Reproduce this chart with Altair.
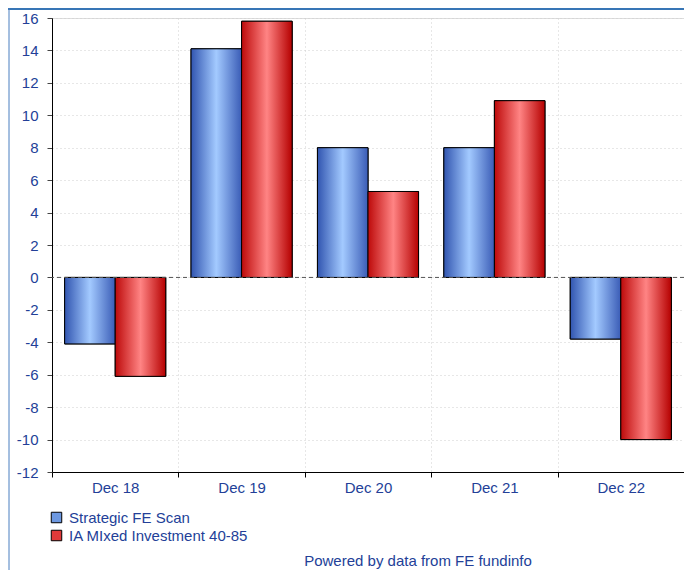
import altair as alt
import pandas as pd

# ---- data ----
categories = ["Dec 18", "Dec 19", "Dec 20", "Dec 21", "Dec 22"]
series_names = ["Strategic FE Scan", "IA MIxed Investment 40-85"]
strategic = [-4.1, 14.1, 8.0, 8.0, -3.8]
ia_mixed = [-6.1, 15.8, 5.3, 10.9, -10.0]
y_ticks = list(range(-12, 17, 2))
footer_text = "Powered by data from FE fundinfo"

rows = []
for c, a, b in zip(categories, strategic, ia_mixed):
    rows.append({"period": c, "series": series_names[0], "value": a})
    rows.append({"period": c, "series": series_names[1], "value": b})
df = pd.DataFrame(rows)

NAVY = "#233f98"
FONT = "Liberation Sans"
W = 632

blue_grad = {
    "gradient": "linear", "x1": 0, "x2": 1, "y1": 0, "y2": 0,
    "stops": [
        {"offset": 0, "color": "#3155b0"},
        {"offset": 0.5, "color": "#a3caff"},
        {"offset": 1, "color": "#3a5cb6"},
    ],
}
red_grad = {
    "gradient": "linear", "x1": 0, "x2": 1, "y1": 0, "y2": 0,
    "stops": [
        {"offset": 0, "color": "#bd0a0a"},
        {"offset": 0.5, "color": "#ff8484"},
        {"offset": 1, "color": "#b50000"},
    ],
}

x_enc = alt.X(
    "period:N",
    sort=categories,
    scale=alt.Scale(domain=categories, paddingInner=0, paddingOuter=0),
    axis=alt.Axis(
        title=None, labelAngle=0, tickBand="extent", grid=True,
        gridDash=[1, 3], gridColor="#cfcfcf", domainColor="black",
        tickColor="black", tickSize=5, labelFontSize=15, labelColor=NAVY,
        labelFont=FONT, labelPadding=3,
    ),
)
xo_enc = alt.XOffset(
    "series:N",
    sort=series_names,
    scale=alt.Scale(domain=series_names, paddingInner=0, paddingOuter=0.25),
)
y_enc = alt.Y(
    "value:Q",
    scale=alt.Scale(domain=[-12, 16], nice=False, zero=True),
    axis=alt.Axis(
        title=None, values=y_ticks, grid=True, gridDash=[1, 3],
        gridColor="#cfcfcf", domainColor="black", tickColor="#444444",
        tickSize=5, labelFontSize=15, labelColor=NAVY, labelFont=FONT,
        labelPadding=9, labelOverlap=False, labelExpr="datum.value + ''",
    ),
)

base = alt.Chart(df).encode(x=x_enc, xOffset=xo_enc, y=y_enc)

solid = base.mark_bar(stroke="black", strokeWidth=1).encode(
    color=alt.Color(
        "series:N",
        scale=alt.Scale(domain=series_names, range=["#6d98e0", "#e03a3a"]),
        legend=alt.Legend(
            title=None, orient="none", legendX=-3, legendY=492,
            direction="vertical", symbolType="square", symbolSize=110,
            symbolStrokeColor="black", symbolStrokeWidth=1,
            labelFontSize=15, labelColor=NAVY, labelFont=FONT,
            rowPadding=2, labelOffset=5, labelLimit=0,
        ),
    )
)
blue = base.transform_filter(alt.datum.series == series_names[0]).mark_bar(
    color=blue_grad, stroke="black", strokeWidth=1
)
red = base.transform_filter(alt.datum.series == series_names[1]).mark_bar(
    color=red_grad, stroke="black", strokeWidth=1
)

zero = alt.Chart(pd.DataFrame({"value": [0]})).mark_rule(
    strokeDash=[4, 3], color="#555555", strokeWidth=1
).encode(y=y_enc)

one = pd.DataFrame({"k": [0]})
header = alt.Chart(one).mark_rect(color="#3876b6").encode(
    x=alt.value(-44), x2=alt.value(W), y=alt.value(-10), y2=alt.value(-8)
)
border = alt.Chart(one).mark_rule(color="#4a7fc0", strokeWidth=1).encode(
    x=alt.value(-43), y=alt.value(-10), y2=alt.value(552)
)
footer = alt.Chart(one).mark_text(
    text=footer_text, font=FONT, fontSize=15, color=NAVY,
    baseline="bottom", align="center",
).encode(x=alt.value(366), y=alt.value(551))

chart = alt.layer(header, border, solid, blue, red, zero, footer).properties(
    width=W,
    height=454,
    autosize=alt.AutoSizeParams(type="none"),
    padding={"left": 44, "top": 10, "right": 0, "bottom": 98},
).configure_view(stroke=None).configure(font=FONT)

chart.save("out.html", embed_options={"renderer": "svg", "actions": False})
